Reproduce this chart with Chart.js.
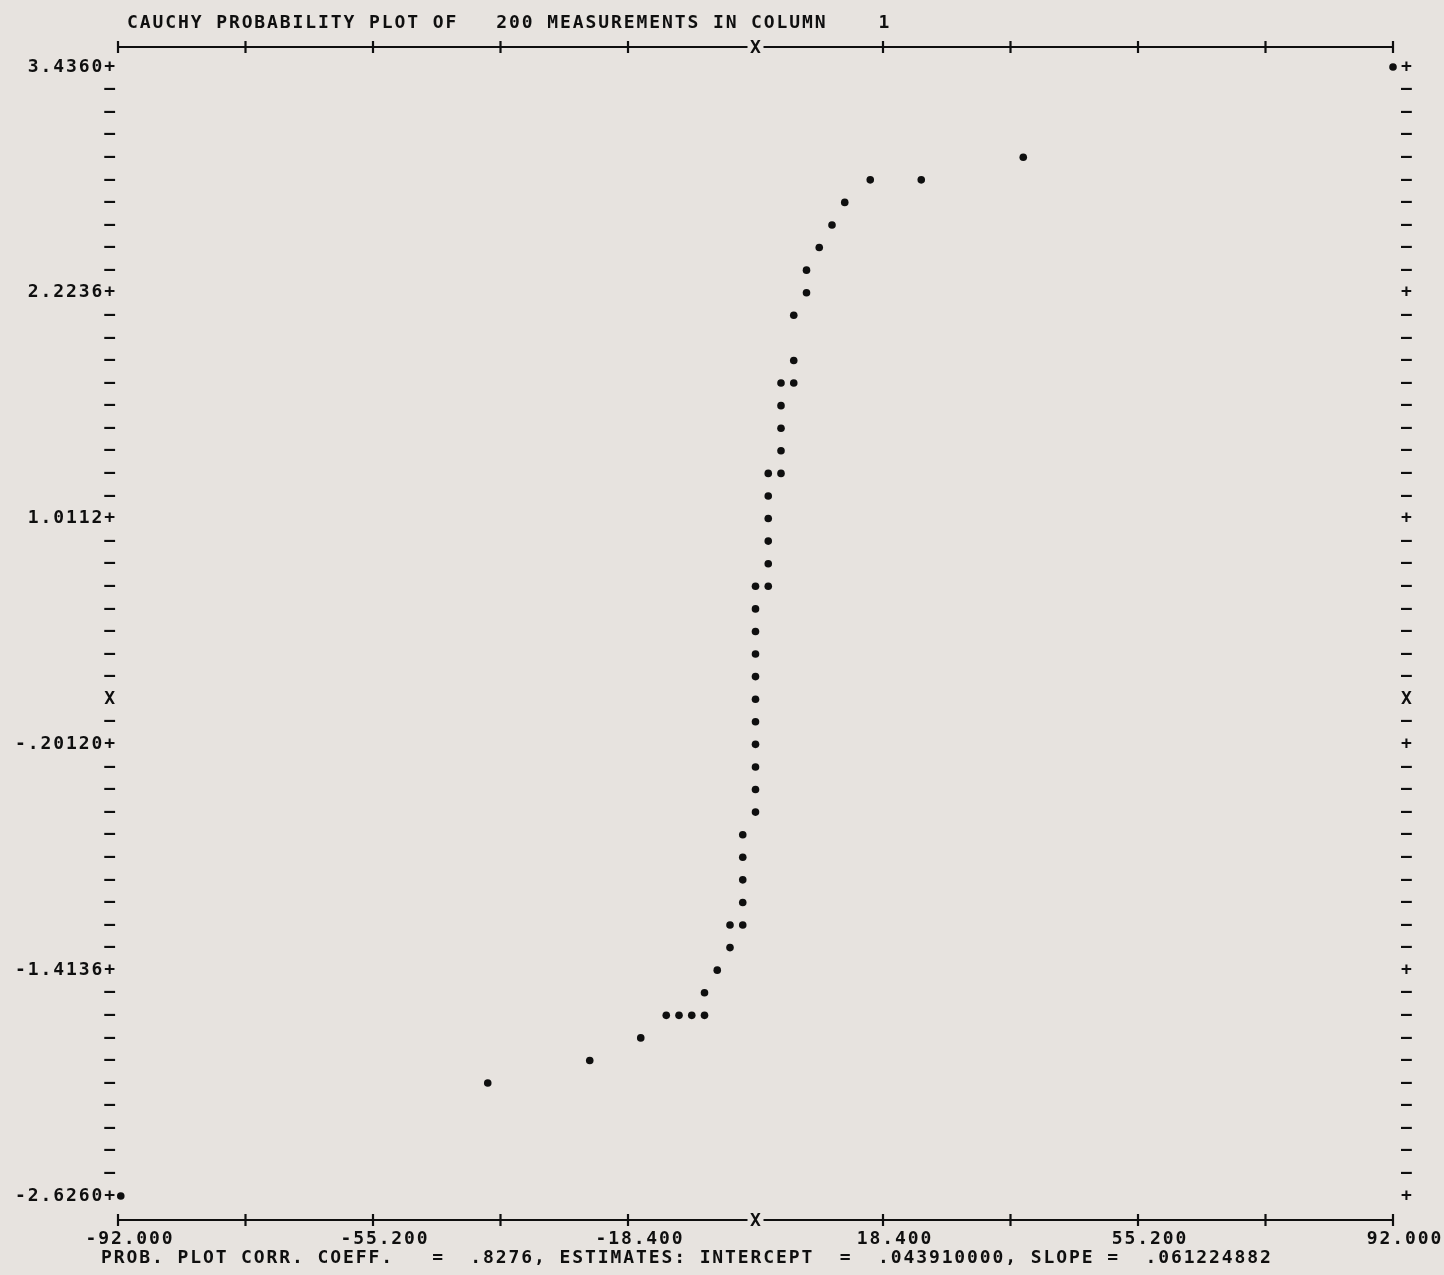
<!DOCTYPE html>
<html>
<head>
<meta charset="utf-8">
<script src="https://cdn.jsdelivr.net/npm/chart.js@4.4.1/dist/chart.umd.min.js"></script>
<style>
  html, body { margin: 0; padding: 0; background: #e7e3df; }
  #wrap { width: 1444px; height: 1275px; position: relative; }
  canvas { display: block; }
</style>
</head>
<body>
<div id="wrap"><canvas id="c" width="1444" height="1275"></canvas></div>
<script>
// ---------------- data ----------------
const titleText = "CAUCHY PROBABILITY PLOT OF   200 MEASUREMENTS IN COLUMN    1";
const footerText = "PROB. PLOT CORR. COEFF.   =  .8276, ESTIMATES: INTERCEPT  =  .043910000, SLOPE =  .061224882";

// horizontal axis: theoretical Cauchy order statistic medians
const xMin = -92.0, xMax = 92.0;
const xTickValues = [-92, -73.6, -55.2, -36.8, -18.4, 0, 18.4, 36.8, 55.2, 73.6, 92];
const xTickLabels = ["-92.000", "", "-55.200", "", "-18.400", "", "18.400", "", "55.200", "", "92.000"];

// vertical axis: ordered measurements
const yTickValues = [3.4360, 2.2236, 1.0112, -0.20120, -1.4136, -2.6260];
const yTickLabels = ["3.4360", "2.2236", "1.0112", "-.20120", "-1.4136", "-2.6260"];
const yMinorPerMajor = 10;

// plotted points (theoretical quantile, measurement)
const xValues = [
  92.0, 38.64, 16.56, 23.92, 12.88, 11.04, 9.20, 7.36, 7.36, 5.52,
  5.52, 3.68, 5.52, 3.68, 3.68, 3.68, 1.84, 3.68, 1.84, 1.84,
  1.84, 1.84, 0.0, 1.84, 0.0, 0.0, 0.0, 0.0, 0.0, 0.0,
  0.0, 0.0, 0.0, 0.0, -1.84, -1.84, -1.84, -1.84, -3.68, -1.84,
  -3.68, -5.52, -7.36, -12.88, -11.04, -9.20, -7.36, -16.56, -23.92, -38.64,
  -91.6
];
const yValues = [
  3.4360, 2.9510, 2.8298, 2.8298, 2.7086, 2.5873, 2.4661, 2.3448, 2.2236, 2.1024,
  1.8599, 1.7386, 1.7386, 1.6174, 1.4962, 1.3749, 1.2537, 1.2537, 1.1324, 1.0112,
  0.8900, 0.7687, 0.6475, 0.6475, 0.5262, 0.4050, 0.2838, 0.1625, 0.0413, -0.0800,
  -0.2012, -0.3224, -0.4437, -0.5649, -0.6862, -0.8074, -0.9286, -1.0499, -1.1711, -1.1711,
  -1.2924, -1.4136, -1.5348, -1.6561, -1.6561, -1.6561, -1.6561, -1.7773, -1.8986, -2.0198,
  -2.6260
];

// ---------------- derived tables ----------------
const points = xValues.map((x, i) => ({ x: x, y: yValues[i] }));
const rowStep = (yTickValues[0] - yTickValues[1]) / yMinorPerMajor;
const nRows = (yTickValues.length - 1) * yMinorPerMajor;
const rowValues = [];
for (let r = 0; r <= nRows; r++) rowValues.push(yTickValues[0] - r * rowStep);
// row nearest to zero carries the "X" marker
let zeroRow = 0;
rowValues.forEach((v, r) => { if (Math.abs(v) < Math.abs(rowValues[zeroRow])) zeroRow = r; });
const leftLabels = rowValues.map((v, r) =>
  r % yMinorPerMajor === 0 ? yTickLabels[r / yMinorPerMajor] + "+" : (r === zeroRow ? "X" : "\u2013"));
const rightLabels = rowValues.map((v, r) =>
  r % yMinorPerMajor === 0 ? "+" : (r === zeroRow ? "X" : "\u2013"));

const yMin = -2.755, yMax = 3.543;
const INK = "#0f0f0f";
const FONT = { family: "'DejaVu Sans Mono', 'Liberation Mono', monospace", size: 18, weight: "bold" };
const FONT_CSS = "bold 18px 'DejaVu Sans Mono', 'Liberation Mono', monospace";
const SPACING = "1.9px";

const framePlugin = {
  id: "frame",
  beforeDraw(chart) {
    chart.ctx.letterSpacing = SPACING;
  },
  afterDraw(chart) {
    const ctx = chart.ctx;
    const xs = chart.scales.x;
    const { top, bottom } = chart.chartArea;
    const xl = xs.getPixelForValue(xMin), xr = xs.getPixelForValue(xMax);
    const x0 = xs.getPixelForValue(0);
    ctx.save();
    ctx.letterSpacing = "0px";
    ctx.strokeStyle = INK;
    ctx.fillStyle = INK;
    ctx.lineWidth = 2.2;
    ctx.lineCap = "butt";
    [top, bottom].forEach(yy => {
      ctx.beginPath();
      ctx.moveTo(xl, yy); ctx.lineTo(x0 - 8, yy);
      ctx.moveTo(x0 + 8, yy); ctx.lineTo(xr, yy);
      ctx.stroke();
      xTickValues.forEach(v => {
        const px = xs.getPixelForValue(v);
        if (v === 0) {
          ctx.font = FONT_CSS;
          ctx.textAlign = "center";
          ctx.textBaseline = "middle";
          ctx.fillText("X", px, yy + 1);
        } else {
          ctx.beginPath();
          ctx.moveTo(px, yy - 6); ctx.lineTo(px, yy + 6);
          ctx.stroke();
        }
      });
    });
    // title and footer
    ctx.letterSpacing = SPACING;
    ctx.font = FONT_CSS;
    ctx.textAlign = "left";
    ctx.textBaseline = "middle";
    ctx.fillText(titleText, 127, 23);
    ctx.fillText(footerText, 101, 1258);
    ctx.restore();
  }
};

new Chart(document.getElementById("c"), {
  type: "scatter",
  data: {
    datasets: [{
      data: points,
      backgroundColor: INK,
      borderWidth: 0,
      pointRadius: 3.8,
      pointHoverRadius: 3.8,
      clip: false
    }]
  },
  options: {
    responsive: false,
    animation: false,
    events: [],
    layout: { padding: { top: 47, bottom: 0, left: 0, right: 0 } },
    plugins: { legend: { display: false }, tooltip: { enabled: false }, title: { display: false } },
    scales: {
      x: {
        type: "linear", position: "bottom", min: xMin, max: xMax,
        afterBuildTicks: s => { s.ticks = xTickValues.map(v => ({ value: v })); },
        afterFit: s => { s.height = 55; },
        grid: { display: false, drawTicks: false },
        border: { display: false },
        ticks: {
          autoSkip: false, maxRotation: 0, minRotation: 0, padding: 9, labelOffset: 12,
          color: INK, font: FONT,
          callback: (v, i) => xTickLabels[i]
        }
      },
      y: {
        type: "linear", axis: "y", position: "left", min: yMin, max: yMax,
        afterBuildTicks: s => { s.ticks = rowValues.map(v => ({ value: v })); },
        afterFit: s => { s.width = 118; },
        grid: { display: false, drawTicks: false },
        border: { display: false },
        ticks: {
          autoSkip: false, padding: 1, color: INK, font: FONT,
          callback: (v, i) => leftLabels[i]
        }
      },
      y2: {
        type: "linear", axis: "y", position: "right", min: yMin, max: yMax,
        afterBuildTicks: s => { s.ticks = rowValues.map(v => ({ value: v })); },
        afterFit: s => { s.width = 51; },
        grid: { display: false, drawTicks: false },
        border: { display: false },
        ticks: {
          autoSkip: false, padding: 8, color: INK, font: FONT,
          callback: (v, i) => rightLabels[i]
        }
      }
    }
  },
  plugins: [framePlugin]
});
</script>
</body>
</html>
